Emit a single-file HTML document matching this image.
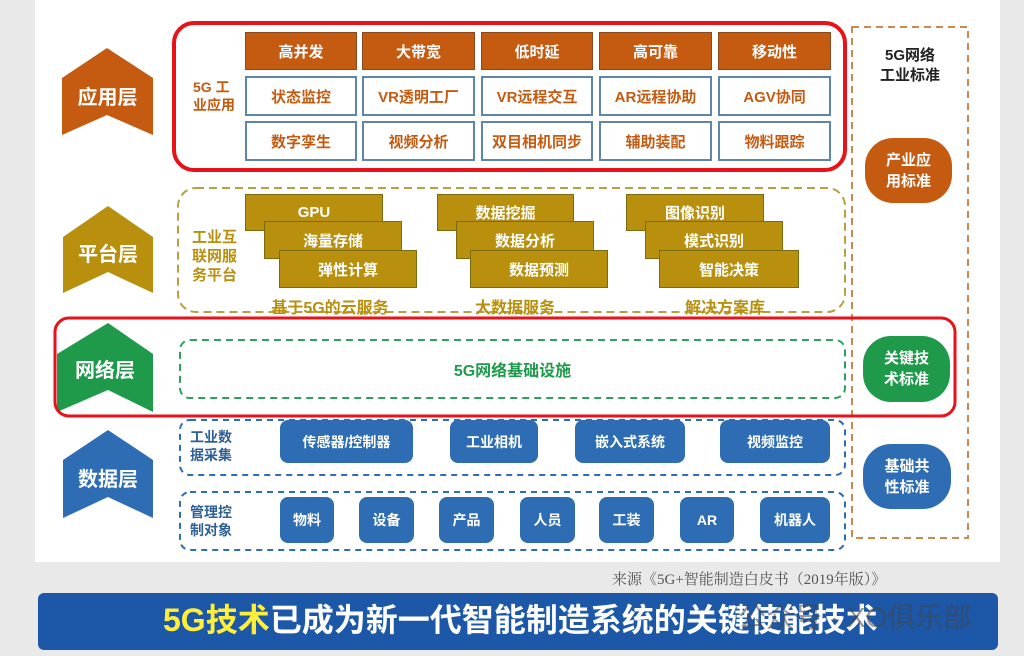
<!DOCTYPE html>
<html><head><meta charset="utf-8"><style>
*{margin:0;padding:0;box-sizing:border-box}
body{width:1024px;height:656px;overflow:hidden;background:#e9e9e9;font-family:"Liberation Sans","Noto Sans CJK SC",sans-serif;position:relative}
.a{position:absolute}
.c{display:flex;align-items:center;justify-content:center;text-align:center;font-weight:bold}
.o{background:#c55a11;color:#fff;font-size:15px;border:1px solid #8a4a20}
.w{background:#fff;color:#c55a11;font-size:15px;border:2px solid #5f86a8}
.g{background:#b8900e;color:#fff;font-size:15px;border:1px solid #7a6a10}
.b{background:#2e6db4;color:#fff;font-size:14px;border-radius:8px}
.lbl{font-weight:bold;font-size:14px;line-height:18px}
</style></head><body>
<div class="a" style="left:35px;top:0;width:965px;height:562px;background:#fff"></div>
<svg class="a" style="left:0;top:0" width="1024" height="656">
<polygon points="107,48 153,78 153,135 107,115 62,135 62,78" fill="#c55a11"/>
<polygon points="108,206 153,237 153,293 108,272 63,293 63,237" fill="#b8900e"/>
<polygon points="108,323 153,354 153,412 108,390 57,412 57,354" fill="#1e9a4a"/>
<polygon points="108,430 153,460 153,518 108,497 63,518 63,460" fill="#2e6db4"/>
<rect x="178" y="188" width="667" height="124" rx="18" fill="none" stroke="#b8a040" stroke-width="2" stroke-dasharray="8,5"/>
<rect x="852" y="27" width="116" height="511" fill="none" stroke="#c88a50" stroke-width="2" stroke-dasharray="7,5"/>
<rect x="180" y="340" width="665" height="58" rx="10" fill="none" stroke="#2ea060" stroke-width="2" stroke-dasharray="7,5"/>
<rect x="180" y="420" width="665" height="55" rx="10" fill="none" stroke="#2e6db4" stroke-width="2" stroke-dasharray="6,5"/>
<rect x="180" y="492" width="665" height="58" rx="10" fill="none" stroke="#2e6db4" stroke-width="2" stroke-dasharray="6,5"/>
<rect x="174" y="23" width="671" height="147" rx="20" fill="none" stroke="#e8121a" stroke-width="4"/>
<rect x="55" y="318" width="900" height="98" rx="14" fill="none" stroke="#e8121a" stroke-width="3"/>
</svg>
<div class="a c" style="left:62px;top:80px;width:91px;height:30px;color:#fff;font-size:20px">应用层</div>
<div class="a c" style="left:63px;top:237px;width:90px;height:30px;color:#fff;font-size:20px">平台层</div>
<div class="a c" style="left:57px;top:353px;width:96px;height:30px;color:#fff;font-size:20px">网络层</div>
<div class="a c" style="left:63px;top:462px;width:90px;height:30px;color:#fff;font-size:20px">数据层</div>

<div class="a lbl" style="left:193px;top:78px;color:#c55a11">5G 工<br>业应用</div>
<div class="a c o" style="left:245px;top:32px;width:112px;height:38px">高并发</div>
<div class="a c o" style="left:362px;top:32px;width:113px;height:38px">大带宽</div>
<div class="a c o" style="left:481px;top:32px;width:112px;height:38px">低时延</div>
<div class="a c o" style="left:599px;top:32px;width:113px;height:38px">高可靠</div>
<div class="a c o" style="left:718px;top:32px;width:113px;height:38px">移动性</div>
<div class="a c w" style="left:245px;top:76px;width:112px;height:40px">状态监控</div>
<div class="a c w" style="left:362px;top:76px;width:113px;height:40px">VR透明工厂</div>
<div class="a c w" style="left:481px;top:76px;width:112px;height:40px">VR远程交互</div>
<div class="a c w" style="left:599px;top:76px;width:113px;height:40px">AR远程协助</div>
<div class="a c w" style="left:718px;top:76px;width:113px;height:40px">AGV协同</div>
<div class="a c w" style="left:245px;top:121px;width:112px;height:40px">数字孪生</div>
<div class="a c w" style="left:362px;top:121px;width:113px;height:40px">视频分析</div>
<div class="a c w" style="left:481px;top:121px;width:112px;height:40px">双目相机同步</div>
<div class="a c w" style="left:599px;top:121px;width:113px;height:40px">辅助装配</div>
<div class="a c w" style="left:718px;top:121px;width:113px;height:40px">物料跟踪</div>

<div class="a lbl" style="left:192px;top:228px;color:#b8900e;font-size:15px;line-height:19px">工业互<br>联网服<br>务平台</div>
<div class="a c g" style="left:245px;top:194px;width:138px;height:37px">GPU</div>
<div class="a c g" style="left:264px;top:221px;width:138px;height:38px">海量存储</div>
<div class="a c g" style="left:279px;top:250px;width:138px;height:38px">弹性计算</div>
<div class="a c g" style="left:437px;top:194px;width:137px;height:37px">数据挖掘</div>
<div class="a c g" style="left:456px;top:221px;width:138px;height:38px">数据分析</div>
<div class="a c g" style="left:470px;top:250px;width:138px;height:38px">数据预测</div>
<div class="a c g" style="left:626px;top:194px;width:138px;height:37px">图像识别</div>
<div class="a c g" style="left:645px;top:221px;width:138px;height:38px">模式识别</div>
<div class="a c g" style="left:659px;top:250px;width:140px;height:38px">智能决策</div>
<div class="a c" style="left:250px;top:295px;width:160px;height:22px;color:#b8900e;font-size:16px">基于5G的云服务</div>
<div class="a c" style="left:440px;top:295px;width:150px;height:22px;color:#b8900e;font-size:16px">大数据服务</div>
<div class="a c" style="left:650px;top:295px;width:150px;height:22px;color:#b8900e;font-size:16px">解决方案库</div>

<div class="a c" style="left:180px;top:356px;width:665px;height:26px;color:#1e9a4a;font-size:16px">5G网络基础设施</div>

<div class="a lbl" style="left:190px;top:428px;color:#2e5f95;font-size:14px">工业数<br>据采集</div>
<div class="a lbl" style="left:190px;top:503px;color:#2e5f95;font-size:14px">管理控<br>制对象</div>
<div class="a c b" style="left:280px;top:420px;width:133px;height:43px">传感器/控制器</div>
<div class="a c b" style="left:450px;top:420px;width:88px;height:43px">工业相机</div>
<div class="a c b" style="left:575px;top:420px;width:110px;height:43px">嵌入式系统</div>
<div class="a c b" style="left:720px;top:420px;width:110px;height:43px">视频监控</div>
<div class="a c b" style="left:280px;top:497px;width:54px;height:46px">物料</div>
<div class="a c b" style="left:359px;top:497px;width:55px;height:46px">设备</div>
<div class="a c b" style="left:439px;top:497px;width:55px;height:46px">产品</div>
<div class="a c b" style="left:520px;top:497px;width:55px;height:46px">人员</div>
<div class="a c b" style="left:599px;top:497px;width:55px;height:46px">工装</div>
<div class="a c b" style="left:680px;top:497px;width:54px;height:46px">AR</div>
<div class="a c b" style="left:760px;top:497px;width:70px;height:46px">机器人</div>

<div class="a c" style="left:862px;top:44px;width:96px;height:44px;color:#222;font-size:15px;line-height:20px">5G网络<br>工业标准</div>
<div class="a c" style="left:865px;top:138px;width:87px;height:65px;background:#c55a11;color:#fff;border-radius:28px;font-size:15px;line-height:21px">产业应<br>用标准</div>
<div class="a c" style="left:863px;top:336px;width:87px;height:66px;background:#1e9a4a;color:#fff;border-radius:28px;font-size:15px;line-height:21px">关键技<br>术标准</div>
<div class="a c" style="left:863px;top:444px;width:88px;height:65px;background:#2e6db4;color:#fff;border-radius:28px;font-size:15px;line-height:21px">基础共<br>性标准</div>

<div class="a" style="left:612px;top:568px;font-family:'Liberation Serif','Noto Serif CJK SC',serif;font-size:15px;color:#555">来源《5G+智能制造白皮书（2019年版）》</div>
<div class="a" style="left:38px;top:593px;width:960px;height:57px;background:#1c57a8;border-radius:6px"></div>
<div class="a" style="left:163px;top:599px;font-size:32px;font-weight:bold;color:#fff;white-space:nowrap;line-height:42px"><span style="color:#ffef3a">5G技术</span>已成为新一代智能制造系统的关键使能技术</div>
<div class="a" style="left:738px;top:596px;font-size:28px;color:rgba(70,70,70,0.55);white-space:nowrap">公众号 · XO俱乐部</div>
</body></html>
